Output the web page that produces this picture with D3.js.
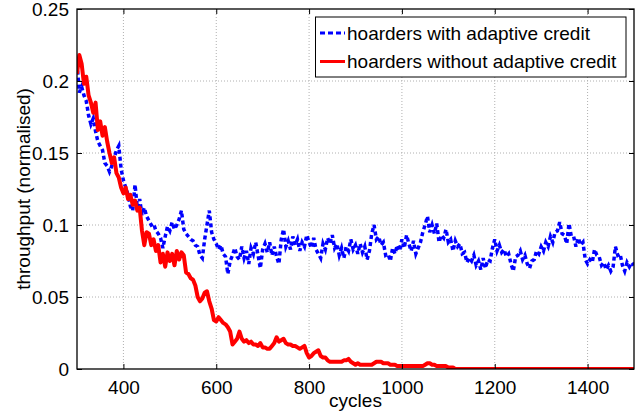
<!DOCTYPE html>
<html lang="en">
	<head>
		<meta charset="utf-8">
		<title>D3: Hoarders throughput</title>
		<script type="text/javascript" src="https://cdn.jsdelivr.net/npm/d3@7"></script>
		<style type="text/css">
			body { margin: 0; background: #fff; }
			text { font-family: "Liberation Sans", Arial, Helvetica, sans-serif; fill: #000; }
		</style>
	</head>
	<body>
		<script type="text/javascript">
			var w = 644;
			var h = 415;
			var margin = {left: 77, right: 10, top: 9, bottom: 46};

			// x axis ticks and y axis ticks
			var xTicks = [400, 600, 800, 1000, 1200, 1400];
			var yTicks = [0, 0.05, 0.1, 0.15, 0.2, 0.25];
			var seriesNames = ["hoarders with adaptive credit", "hoarders without adaptive credit"];

			// hoarders with adaptive credit, one value every 5 cycles from 300 to 1500
			var blueCycles = d3.range(300, 1501, 5);
			var blueValues = [
				.212,.192,.196,.19,.186,.176,.17,.174,.165,.158,
				.155,.152,.143,.141,.137,.141,.146,.152,.155,.139,
				.131,.126,.121,.113,.11,.128,.112,.118,.107,.112,
				.106,.103,.1,.101,.096,.094,.091,.084,.092,.099,
				.096,.102,.097,.1,.104,.11,.097,.094,.092,.09,
				.089,.086,.085,.079,.077,.09,.1,.11,.095,.09,
				.087,.083,.086,.08,.078,.066,.075,.079,.084,.078,
				.076,.085,.077,.082,.073,.084,.08,.088,.079,.07,
				.083,.087,.081,.088,.079,.085,.078,.073,.09,.097,
				.085,.089,.083,.092,.086,.09,.082,.088,.085,.093,
				.088,.084,.091,.083,.08,.077,.087,.083,.091,.087,
				.093,.084,.087,.079,.084,.077,.085,.082,.09,.083,
				.086,.08,.087,.081,.085,.076,.082,.094,.1,.09,
				.092,.086,.088,.079,.08,.075,.084,.08,.086,.082,
				.09,.084,.093,.087,.082,.089,.08,.084,.088,.095,
				.1,.106,.095,.1,.094,.101,.088,.093,.091,.097,
				.088,.09,.082,.089,.085,.087,.08,.081,.074,.077,
				.075,.079,.072,.075,.069,.077,.07,.076,.075,.084,
				.09,.082,.086,.081,.083,.078,.08,.073,.068,.078,
				.079,.082,.076,.079,.073,.07,.075,.076,.082,.08,
				.085,.082,.088,.085,.092,.088,.095,.096,.102,.094,
				.093,.087,.101,.092,.092,.085,.091,.086,.088,.076,
				.073,.076,.074,.083,.079,.078,.072,.074,.069,.072,
				.068,.071,.085,.079,.08,.072,.068,.074,.071,.074,
				.072
			];

			// hoarders without adaptive credit, every 5 cycles to 1120, then flat at zero
			var redCycles = d3.range(300, 1121, 5).concat([1500]);
			var redValues = [
				.205,.218,.212,.198,.203,.19,.185,.178,.185,.166,
				.172,.162,.168,.158,.15,.143,.147,.136,.133,.126,
				.122,.126,.118,.121,.114,.117,.11,.112,.096,.086,
				.095,.094,.086,.09,.082,.086,.074,.08,.071,.081,
				.075,.08,.072,.082,.076,.081,.079,.067,.066,.063,
				.062,.058,.05,.047,.049,.053,.054,.047,.042,.034,
				.033,.036,.034,.032,.031,.029,.026,.017,.019,.021,
				.026,.021,.019,.02,.018,.019,.017,.017,.016,.018,
				.015,.015,.014,.014,.016,.018,.022,.019,.02,.021,
				.018,.017,.017,.016,.016,.015,.014,.015,.016,.011,
				.008,.009,.011,.012,.013,.009,.008,.008,.006,.005,
				.005,.005,.005,.005,.005,.006,.006,.007,.005,.004,
				.003,.004,.003,.003,.003,.003,.003,.003,.004,.005,
				.005,.005,.004,.004,.004,.003,.003,.003,.002,.002,
				.002,.002,.002,.002,.002,.002,.002,.002,.002,.002,
				.003,.004,.004,.003,.003,.002,.002,.002,.002,.002,
				.001,.001,.001,0,0,
				0
			];

			var svg = d3.select("body")
					.append("svg")
					.attr("width", w)
					.attr("height", h);

			var xScale = d3.scaleLinear().domain([300, 1500]).range([margin.left, w - margin.right]);
			var yScale = d3.scaleLinear().domain([0, 0.25]).range([h - margin.bottom, margin.top]);

			var x0 = xScale.range()[0], x1 = xScale.range()[1];
			var y0 = yScale.range()[0], y1 = yScale.range()[1];

			svg.append("defs").append("clipPath").attr("id", "plotclip")
				.append("rect")
				.attr("x", x0).attr("y", y1)
				.attr("width", x1 - x0).attr("height", y0 - y1);

			// dotted grid
			var grid = svg.append("g");
			grid.selectAll("line.gx")
				.data(xTicks)
				.enter()
				.append("line")
				.attr("x1", function(d) { return xScale(d); })
				.attr("x2", function(d) { return xScale(d); })
				.attr("y1", y0).attr("y2", y1)
				.attr("stroke", "#b0b0b0")
				.attr("stroke-width", 1)
				.attr("stroke-dasharray", "1,2");
			grid.selectAll("line.gy")
				.data(yTicks.slice(1, -1))
				.enter()
				.append("line")
				.attr("y1", function(d) { return yScale(d); })
				.attr("y2", function(d) { return yScale(d); })
				.attr("x1", x0).attr("x2", x1)
				.attr("stroke", "#b0b0b0")
				.attr("stroke-width", 1)
				.attr("stroke-dasharray", "1,2");

			var line = d3.line()
				.x(function(d) { return xScale(d[0]); })
				.y(function(d) { return yScale(d[1]); });

			var plot = svg.append("g").attr("clip-path", "url(#plotclip)");

			plot.append("path")
				.datum(d3.zip(blueCycles, blueValues))
				.attr("d", line)
				.attr("fill", "none")
				.attr("stroke", "#0000ff")
				.attr("stroke-width", 3.5)
				.attr("stroke-dasharray", "4,3");

			plot.append("path")
				.datum(d3.zip(redCycles, redValues))
				.attr("d", line)
				.attr("fill", "none")
				.attr("stroke", "#ff0000")
				.attr("stroke-width", 4)
				.attr("stroke-linejoin", "round");

			// axes: ticks point inward, on all four sides
			var tickLen = 5;
			svg.append("g")
				.attr("transform", "translate(0," + y0 + ")")
				.call(d3.axisBottom(xScale).tickValues(xTicks).tickSize(-tickLen).tickPadding(12).tickFormat(d3.format("d")))
				.call(function(g) {
					g.select(".domain").remove();
					g.selectAll("text").attr("font-size", "19px").attr("font-family", "Liberation Sans, Arial, sans-serif");
				});
			svg.append("g")
				.attr("transform", "translate(0," + y1 + ")")
				.call(d3.axisTop(xScale).tickValues(xTicks).tickSize(-tickLen).tickFormat(""))
				.call(function(g) { g.select(".domain").remove(); });
			svg.append("g")
				.attr("transform", "translate(" + x0 + ",0)")
				.call(d3.axisLeft(yScale).tickValues(yTicks).tickSize(-tickLen).tickPadding(8).tickFormat(d3.format("")))
				.call(function(g) {
					g.select(".domain").remove();
					g.selectAll("text").attr("font-size", "19px").attr("font-family", "Liberation Sans, Arial, sans-serif");
				});
			svg.append("g")
				.attr("transform", "translate(" + x1 + ",0)")
				.call(d3.axisRight(yScale).tickValues(yTicks).tickSize(-tickLen).tickFormat(""))
				.call(function(g) { g.select(".domain").remove(); });

			svg.append("rect")
				.attr("x", x0).attr("y", y1)
				.attr("width", x1 - x0).attr("height", y0 - y1)
				.attr("fill", "none")
				.attr("stroke", "#000")
				.attr("stroke-width", 1.3);

			// axis labels
			svg.append("text")
				.attr("x", (x0 + x1) / 2)
				.attr("y", 407)
				.attr("text-anchor", "middle")
				.attr("font-size", "19px")
				.text("cycles");
			svg.append("text")
				.attr("transform", "translate(30," + ((y0 + y1) / 2) + ") rotate(-90)")
				.attr("text-anchor", "middle")
				.attr("font-size", "19px")
				.text("throughput (normalised)");

			// legend
			var legend = svg.append("g");
			legend.append("rect")
				.attr("x", 315.5).attr("y", 17)
				.attr("width", 310.5).attr("height", 60)
				.attr("fill", "#fff")
				.attr("stroke", "#000")
				.attr("stroke-width", 1);
			var legendColors = ["#0000ff", "#ff0000"];
			var legendDash = ["5,3", null];
			var legendRows = legend.selectAll("g.row")
				.data(seriesNames)
				.enter()
				.append("g")
				.attr("transform", function(d, i) { return "translate(0," + (33 + i * 28.5) + ")"; });
			legendRows.append("line")
				.attr("x1", 320).attr("x2", 345)
				.attr("y1", 0).attr("y2", 0)
				.attr("stroke", function(d, i) { return legendColors[i]; })
				.attr("stroke-width", 3)
				.attr("stroke-dasharray", function(d, i) { return legendDash[i]; });
			legendRows.append("text")
				.attr("x", 347)
				.attr("y", 0)
				.attr("dy", "0.35em")
				.attr("font-size", "19px")
				.text(function(d) { return d; });
		</script>
	</body>
</html>
